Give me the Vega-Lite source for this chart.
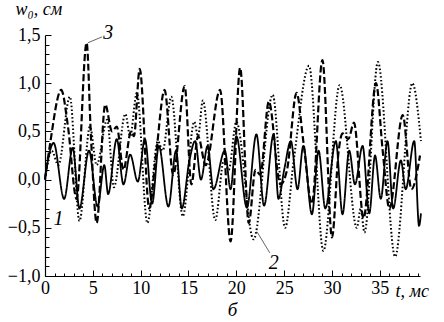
{
  "$schema": "https://vega.github.io/schema/vega-lite/v6.json",
  "width": 375,
  "height": 241,
  "autosize": "none",
  "padding": {"left": 45, "top": 35, "right": 24, "bottom": 46},
  "background": "white",
  "config": {
    "view": {"stroke": null},
    "font": "Liberation Serif"
  },
  "title": {
    "text": "б",
    "orient": "bottom",
    "anchor": "middle",
    "frame": "group",
    "font": "Liberation Serif",
    "fontSize": 19,
    "fontStyle": "italic",
    "fontWeight": "normal",
    "color": "black",
    "offset": 1
  },
  "resolve": {"axis": {"x": "independent", "y": "independent"}},
  "datasets": {
    "curves": [
      {"s": "1", "t": 0, "w": 0.02}, {"s": "1", "t": 0.9, "w": 0.38}, {"s": "1", "t": 2.0, "w": -0.2}, {"s": "1", "t": 2.9, "w": 0.33},
      {"s": "1", "t": 3.6, "w": -0.3}, {"s": "1", "t": 4.6, "w": 0.3}, {"s": "1", "t": 5.5, "w": -0.28}, {"s": "1", "t": 6.2, "w": 0.15},
      {"s": "1", "t": 6.6, "w": -0.15}, {"s": "1", "t": 7.5, "w": 0.42}, {"s": "1", "t": 8.2, "w": -0.05}, {"s": "1", "t": 8.9, "w": 0.26},
      {"s": "1", "t": 9.7, "w": -0.02}, {"s": "1", "t": 10.45, "w": 0.42}, {"s": "1", "t": 11.2, "w": -0.25}, {"s": "1", "t": 11.9, "w": 0.35},
      {"s": "1", "t": 12.9, "w": -0.28}, {"s": "1", "t": 13.7, "w": 0.3}, {"s": "1", "t": 14.3, "w": -0.3}, {"s": "1", "t": 15.1, "w": 0.2},
      {"s": "1", "t": 15.7, "w": 0.4}, {"s": "1", "t": 16.3, "w": 0.0}, {"s": "1", "t": 17.0, "w": 0.35}, {"s": "1", "t": 17.6, "w": -0.1},
      {"s": "1", "t": 18.8, "w": 0.3}, {"s": "1", "t": 19.4, "w": -0.1}, {"s": "1", "t": 20.0, "w": 0.45}, {"s": "1", "t": 21.1, "w": -0.29},
      {"s": "1", "t": 22.1, "w": 0.47}, {"s": "1", "t": 22.9, "w": -0.27}, {"s": "1", "t": 23.9, "w": 0.47}, {"s": "1", "t": 24.4, "w": -0.2},
      {"s": "1", "t": 25.0, "w": 0.1}, {"s": "1", "t": 25.7, "w": 0.4}, {"s": "1", "t": 26.4, "w": -0.1}, {"s": "1", "t": 27.0, "w": 0.35},
      {"s": "1", "t": 27.9, "w": -0.36}, {"s": "1", "t": 28.6, "w": 0.3}, {"s": "1", "t": 29.3, "w": -0.3}, {"s": "1", "t": 30.4, "w": 0.4},
      {"s": "1", "t": 31.1, "w": -0.36}, {"s": "1", "t": 31.8, "w": 0.3}, {"s": "1", "t": 32.4, "w": -0.05}, {"s": "1", "t": 33.2, "w": 0.35},
      {"s": "1", "t": 33.9, "w": -0.35}, {"s": "1", "t": 34.5, "w": 0.25}, {"s": "1", "t": 35.1, "w": -0.2}, {"s": "1", "t": 35.8, "w": 0.4},
      {"s": "1", "t": 36.4, "w": -0.3}, {"s": "1", "t": 37.2, "w": 0.2}, {"s": "1", "t": 37.7, "w": -0.1}, {"s": "1", "t": 38.6, "w": 0.4},
      {"s": "1", "t": 39.1, "w": -0.48}, {"s": "1", "t": 39.3, "w": -0.35},

      {"s": "2", "t": 0, "w": 0.0}, {"s": "2", "t": 0.7, "w": 0.3}, {"s": "2", "t": 1.4, "w": 0.15}, {"s": "2", "t": 2.6, "w": 0.86},
      {"s": "2", "t": 3.6, "w": -0.43}, {"s": "2", "t": 4.7, "w": 0.55}, {"s": "2", "t": 5.4, "w": 0.15}, {"s": "2", "t": 6.5, "w": 0.62},
      {"s": "2", "t": 7.2, "w": -0.08}, {"s": "2", "t": 8.4, "w": 0.68}, {"s": "2", "t": 8.9, "w": 0.45}, {"s": "2", "t": 9.6, "w": 0.9},
      {"s": "2", "t": 10.7, "w": -0.45}, {"s": "2", "t": 11.8, "w": 0.4}, {"s": "2", "t": 12.3, "w": 0.3}, {"s": "2", "t": 13.2, "w": 0.86},
      {"s": "2", "t": 14.4, "w": -0.38}, {"s": "2", "t": 15.6, "w": 0.6}, {"s": "2", "t": 16.0, "w": 0.45}, {"s": "2", "t": 16.5, "w": 0.82},
      {"s": "2", "t": 17.8, "w": -0.42}, {"s": "2", "t": 18.7, "w": 0.2}, {"s": "2", "t": 19.2, "w": 0.1}, {"s": "2", "t": 20.0, "w": 0.6},
      {"s": "2", "t": 21.8, "w": -0.62}, {"s": "2", "t": 23.8, "w": 0.88}, {"s": "2", "t": 25.1, "w": -0.5}, {"s": "2", "t": 26.0, "w": 0.2},
      {"s": "2", "t": 27.6, "w": 1.18}, {"s": "2", "t": 29.1, "w": -0.74}, {"s": "2", "t": 30.8, "w": 0.98}, {"s": "2", "t": 32.6, "w": -0.5},
      {"s": "2", "t": 33.0, "w": -0.3}, {"s": "2", "t": 33.4, "w": -0.55}, {"s": "2", "t": 34.8, "w": 1.22}, {"s": "2", "t": 36.6, "w": -0.8},
      {"s": "2", "t": 38.4, "w": 1.0}, {"s": "2", "t": 39.3, "w": 0.4},

      {"s": "3", "t": 0, "w": 0.0}, {"s": "3", "t": 0.5, "w": 0.35}, {"s": "3", "t": 1.7, "w": 0.93}, {"s": "3", "t": 2.4, "w": 0.55},
      {"s": "3", "t": 3.3, "w": -0.2}, {"s": "3", "t": 4.35, "w": 1.42}, {"s": "3", "t": 4.8, "w": 0.45}, {"s": "3", "t": 5.4, "w": -0.45},
      {"s": "3", "t": 6.3, "w": 0.78}, {"s": "3", "t": 7.0, "w": 0.5}, {"s": "3", "t": 7.5, "w": 0.55}, {"s": "3", "t": 8.2, "w": 0.1},
      {"s": "3", "t": 9.0, "w": 0.5}, {"s": "3", "t": 9.3, "w": 0.45}, {"s": "3", "t": 9.9, "w": 1.15}, {"s": "3", "t": 10.9, "w": -0.3},
      {"s": "3", "t": 11.6, "w": 0.25}, {"s": "3", "t": 12.5, "w": 0.93}, {"s": "3", "t": 13.4, "w": 0.05}, {"s": "3", "t": 14.6, "w": 0.97},
      {"s": "3", "t": 15.3, "w": -0.05}, {"s": "3", "t": 16.0, "w": 0.45}, {"s": "3", "t": 16.8, "w": 0.15}, {"s": "3", "t": 18.3, "w": 0.93},
      {"s": "3", "t": 19.4, "w": -0.64}, {"s": "3", "t": 20.4, "w": 1.16}, {"s": "3", "t": 21.3, "w": -0.45}, {"s": "3", "t": 22.0, "w": 0.1},
      {"s": "3", "t": 22.5, "w": 0.05}, {"s": "3", "t": 23.4, "w": 0.81}, {"s": "3", "t": 24.6, "w": -0.05}, {"s": "3", "t": 25.3, "w": 0.1},
      {"s": "3", "t": 26.3, "w": 0.9}, {"s": "3", "t": 27.0, "w": 0.4}, {"s": "3", "t": 27.9, "w": -0.25}, {"s": "3", "t": 29.0, "w": 1.24},
      {"s": "3", "t": 30.0, "w": -0.6}, {"s": "3", "t": 30.7, "w": 0.3}, {"s": "3", "t": 31.1, "w": 0.48}, {"s": "3", "t": 31.7, "w": 0.42},
      {"s": "3", "t": 32.3, "w": 0.59}, {"s": "3", "t": 33.3, "w": -0.4}, {"s": "3", "t": 34.6, "w": 1.0}, {"s": "3", "t": 35.3, "w": 0.3},
      {"s": "3", "t": 36.0, "w": -0.3}, {"s": "3", "t": 37.4, "w": 0.67}, {"s": "3", "t": 38.3, "w": -0.1}, {"s": "3", "t": 39.2, "w": 0.25}
    ],
    "leaders": [
      {"t": 4.5, "w": 1.42, "t2": 5.95, "w2": 1.48},
      {"t": 22.15, "w": -0.54, "t2": 23.5, "w2": -0.76}
    ],
    "labels": [
      {"label": "1", "t": 1.4, "w": -0.41},
      {"label": "2", "t": 23.9, "w": -0.86},
      {"label": "3", "t": 6.6, "w": 1.52}
    ]
  },
  "layer": [
    {
      "data": {"name": "curves"},
      "mark": {"type": "line", "interpolate": "monotone", "clip": false, "color": "black"},
      "encoding": {
        "x": {
          "field": "t", "type": "quantitative",
          "scale": {"domain": [0, 39.2], "nice": false, "zero": false},
          "axis": {
            "orient": "bottom",
            "values": [0, 5, 10, 15, 20, 25, 30, 35],
            "format": "d",
            "grid": false,
            "tickSize": -6,
            "tickColor": "black",
            "domainColor": "black",
            "domainWidth": 1.2,
            "labelFont": "Liberation Serif",
            "labelFontSize": 18,
            "labelColor": "black",
            "labelPadding": 9,
            "labelOverlap": false,
            "labelFlush": false,
            "title": "t, мс",
            "titleFont": "Liberation Serif",
            "titleFontSize": 18,
            "titleFontWeight": "normal",
            "titleFontStyle": "italic",
            "titleColor": "black",
            "titleAlign": "left",
            "titleBaseline": "middle",
            "titleX": 350,
            "titleY": 15,
            "titleAngle": 0
          }
        },
        "y": {
          "field": "w", "type": "quantitative",
          "scale": {"domain": [-1, 1.5], "nice": false, "zero": false},
          "axis": {
            "orient": "left",
            "values": [-1, -0.5, 0, 0.5, 1, 1.5],
            "labelExpr": "replace(format(datum.value, '.1f'), '.', ',')",
            "grid": false,
            "tickSize": -6,
            "tickColor": "black",
            "domainColor": "black",
            "domainWidth": 1.2,
            "labelFont": "Liberation Serif",
            "labelFontSize": 18,
            "labelColor": "black",
            "labelPadding": 11,
            "labelOverlap": false,
            "labelFlush": false,
            "title": "w₀, см",
            "titleFont": "Liberation Serif",
            "titleFontSize": 18,
            "titleFontWeight": "normal",
            "titleFontStyle": "italic",
            "titleColor": "black",
            "titleAngle": 0,
            "titleAlign": "left",
            "titleBaseline": "middle",
            "titleX": -30,
            "titleY": -26
          }
        },
        "detail": {"field": "s", "type": "nominal"},
        "strokeDash": {
          "field": "s", "type": "nominal",
          "scale": {"domain": ["1", "2", "3"], "range": [[1, 0], [1.6, 2.2], [7, 3]]},
          "legend": null
        },
        "strokeWidth": {
          "field": "s", "type": "nominal",
          "scale": {"domain": ["1", "2", "3"], "range": [1.8, 2.2, 2.0]},
          "legend": null
        }
      }
    },
    {
      "data": {"name": "leaders"},
      "mark": {"type": "rule", "color": "#555555", "strokeWidth": 0.9, "clip": false},
      "encoding": {
        "x": {
          "field": "t", "type": "quantitative",
          "axis": {
            "orient": "bottom",
            "values": [1,2,3,4,6,7,8,9,11,12,13,14,16,17,18,19,21,22,23,24,26,27,28,29,31,32,33,34,36,37,38,39],
            "labels": false,
            "domain": false,
            "grid": false,
            "tickSize": -3,
            "tickColor": "black",
            "title": null,
            "offset": 0
          }
        },
        "y": {
          "field": "w", "type": "quantitative",
          "axis": {
            "orient": "left",
            "values": [-0.9, -0.8, -0.7, -0.6, -0.4, -0.3, -0.2, -0.1, 0.1, 0.2, 0.3, 0.4, 0.6, 0.7, 0.8, 0.9, 1.1, 1.2, 1.3, 1.4],
            "labels": false,
            "domain": false,
            "grid": false,
            "tickSize": -4,
            "tickColor": "black",
            "title": null,
            "offset": 0
          }
        },
        "x2": {"field": "t2"},
        "y2": {"field": "w2"}
      }
    },
    {
      "data": {"name": "labels"},
      "mark": {"type": "text", "font": "Liberation Serif", "fontSize": 20, "fontStyle": "italic", "color": "black", "align": "center", "baseline": "middle", "clip": false},
      "encoding": {
        "x": {"field": "t", "type": "quantitative", "axis": null},
        "y": {"field": "w", "type": "quantitative", "axis": null},
        "text": {"field": "label", "type": "nominal"}
      }
    }
  ]
}
